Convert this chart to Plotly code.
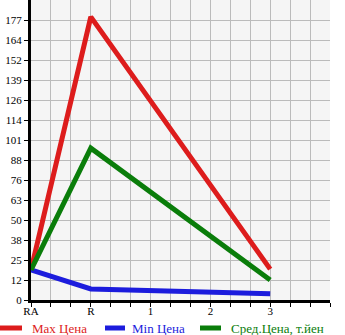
import plotly.graph_objects as go

categories = ["RA", "R", "1", "2", "3"]
x_pos = [0, 1, 4]
max_price = [19, 179, 19.5]
min_price = [19, 7, 4]
avg_price = [19, 96, 12.6]
y_labels = ["0", "12", "25", "38", "50", "63", "76", "88", "101", "114", "126", "139", "152", "164", "177"]
series_names = ["Max Цена", "Min Цена", "Сред.Цена, т.йен"]
series_colors = ["#dd1c1c", "#1c1cdd", "#0a7d0a"]

step = 177 / 14
y_vals = [i * step for i in range(len(y_labels))]

x_tickvals = [i / 3 for i in range(0, 16)]
x_ticktext = [categories[int(round(v))] if abs(v - round(v)) < 1e-6 and int(round(v)) < len(categories) else "" for v in x_tickvals]

fig = go.Figure()
for name, color, vals in zip(series_names, series_colors, [max_price, min_price, avg_price]):
    fig.add_trace(go.Scatter(x=x_pos, y=vals, mode="lines", name=name,
                             line=dict(color=color, width=5), showlegend=False))

font = "Liberation Serif, DejaVu Serif, serif"
W, H = 345, 335
L, R, T, B = 31, 15, 0, 35
pw, ph = W - L - R, H - T - B

def px(p):
    return (p - L) / pw

def py(p):
    return (H - B - p) / ph

# manual legend
legend_items = [(0, 22, 30), (105, 125, 130), (200, 221, 229)]
shapes = []
annotations = []
for (x0, x1, tx), name, color in zip(legend_items, series_names, series_colors):
    shapes.append(dict(type="line", xref="paper", yref="paper", x0=px(x0), x1=px(x1),
                       y0=py(328), y1=py(328), line=dict(color=color, width=5)))
    annotations.append(dict(xref="paper", yref="paper", x=px(tx), y=py(328), text=name,
                            showarrow=False, xanchor="left", yanchor="middle",
                            font=dict(family=font, size=13, color=color)))

fig.update_layout(
    width=W, height=H,
    margin=dict(l=L, r=R, t=T, b=B),
    paper_bgcolor="white", plot_bgcolor="#f5f5f5",
    font=dict(family=font, size=11, color="black"),
    showlegend=False,
    shapes=shapes, annotations=annotations,
)
fig.update_xaxes(range=[0, 5], tickmode="array", tickvals=x_tickvals, ticktext=x_ticktext,
                 showgrid=True, gridcolor="#bbbbbb", gridwidth=1,
                 showline=True, linecolor="black", linewidth=3,
                 ticks="outside", ticklen=4, tickcolor="black", tickwidth=1,
                 ticklabelstandoff=-5,
                 zeroline=False, fixedrange=True, automargin=False)
fig.update_yaxes(range=[0, 15 * step], tickmode="array", tickvals=y_vals, ticktext=y_labels,
                 showgrid=True, gridcolor="#bbbbbb", gridwidth=1,
                 showline=True, linecolor="black", linewidth=3,
                 ticks="outside", ticklen=4, tickcolor="black", tickwidth=1,
                 zeroline=False, fixedrange=True, automargin=False)

fig.write_html("out.html")
